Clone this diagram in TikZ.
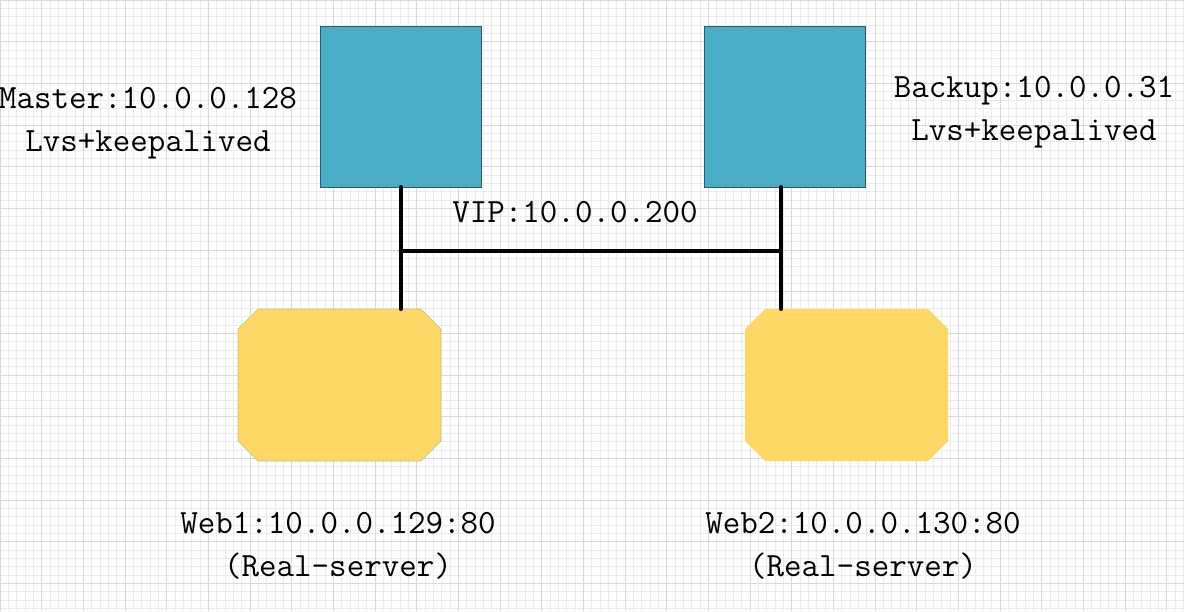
\documentclass[tikz,border=0pt]{standalone}
\usepackage{fontspec}
\setmonofont{Latin Modern Mono}
\usetikzlibrary{calc}
\definecolor{teal1}{HTML}{4BACC6}
\definecolor{tealborder}{HTML}{2E5B68}
\definecolor{yel}{HTML}{FDD867}
\definecolor{yelborder}{HTML}{B8C48A}
\tikzset{
  lbox/.style={draw=tealborder, line width=0.8pt, fill=teal1, minimum width=161pt, minimum height=161pt, inner sep=0pt, outer sep=0pt},
  wserver/.style={minimum width=203pt, minimum height=152pt, inner sep=0pt, outer sep=0pt},
  octa/.style={fill=yel, line width=0.6pt},
  wire/.style={line width=4pt, line cap=round, black},
  lbl/.style={font=\ttfamily\fontsize{34}{43}\selectfont, align=center, inner sep=0pt, text=black}
}
\newcommand{\octagon}[3]{%
  \path[octa,#3] ($(#1.north west)+(#2,0)$) -- ($(#1.north east)+(-#2,0)$) -- ($(#1.north east)+(0,#2)$)
    -- ($(#1.south east)+(0,-#2)$) -- ($(#1.south east)+(-#2,0)$) -- ($(#1.south west)+(#2,0)$)
    -- ($(#1.south west)+(0,-#2)$) -- ($(#1.north west)+(0,#2)$) -- cycle;}
\begin{document}
\begin{tikzpicture}[x=1pt,y=-1pt]
\useasboundingbox (0,0) rectangle (1184,611);
\fill[white] (0,0) rectangle (1184,611);
\draw[gray!16, line width=0.7pt, step=8.333pt] (0,0) grid (1184,611);
\draw[gray!30, line width=0.8pt, step=41.667pt] (0,0) grid (1184,611);
\node[lbox] (master) at (400.5,106.5) {};
\node[lbox] (backup) at (784.5,106.5) {};
\node[wserver] (web1) at (339.5,385) {};
\node[wserver] (web2) at (846.5,385) {};
\octagon{web1}{20}{draw=yelborder}
\octagon{web2}{20}{}
\coordinate (jl) at (400.5,251);
\coordinate (jr) at (781,251);
\coordinate (bl) at (400.5,309);
\coordinate (br) at (781,309);
\coordinate (tr) at (781,187);
\draw[wire] (master.south) -- (bl);
\draw[wire] (tr) -- (br);
\draw[wire] (jl) -- (jr);
\node[lbl] (mlabel) at (148,123) {Master:10.0.0.128\\Lvs+keepalived};
\node[lbl] (blabel) at (1034,112) {Backup:10.0.0.31\\Lvs+keepalived};
\node[lbl] (vip) at (575,212) {VIP:10.0.0.200};
\node[lbl] (w1label) at (338,546) {Web1:10.0.0.129:80\\(Real-server)};
\node[lbl] (w2label) at (863,546) {Web2:10.0.0.130:80\\(Real-server)};
\end{tikzpicture}
\end{document}
